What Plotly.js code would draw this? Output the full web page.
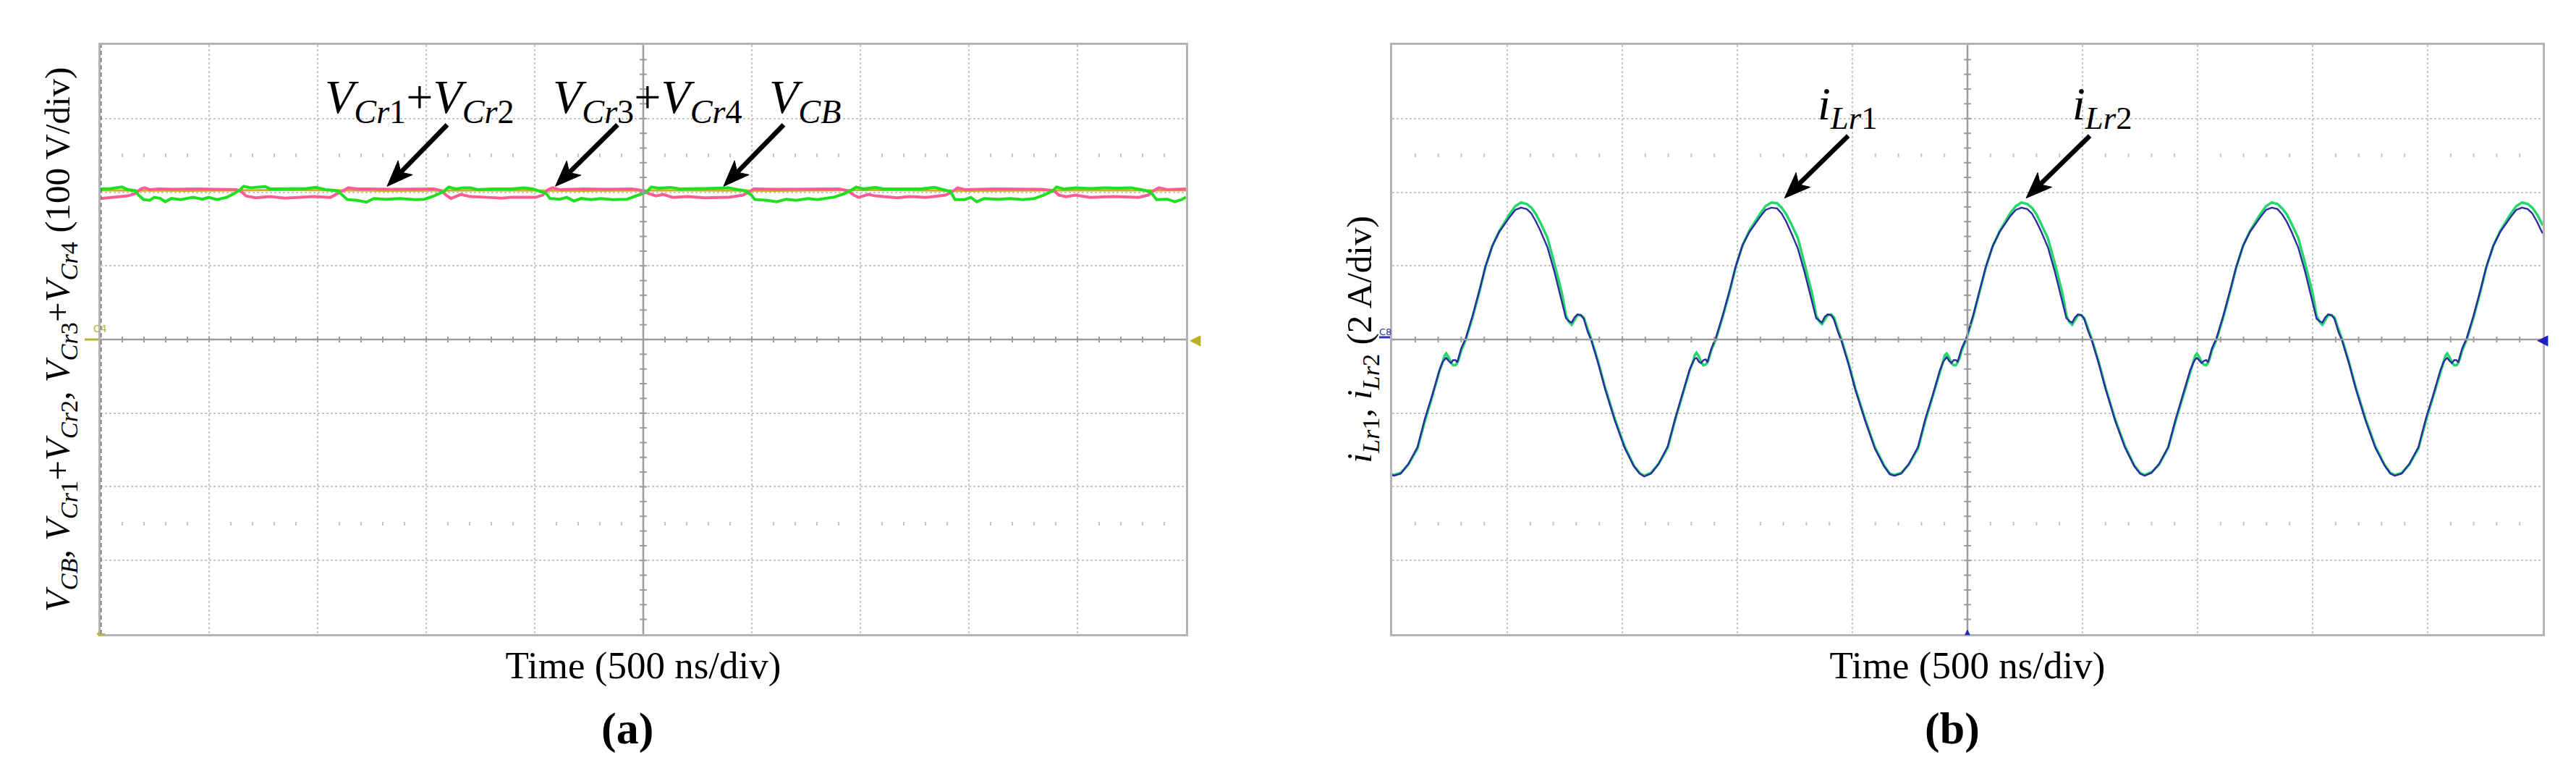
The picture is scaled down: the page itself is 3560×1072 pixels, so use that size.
<!DOCTYPE html>
<html>
<head>
<meta charset="utf-8">
<script src="https://cdn.plot.ly/plotly-3.0.1.min.js"></script>
<style>html,body{margin:0;padding:0;background:#fff;}#chart{width:3560px;height:1072px;}</style>
</head>
<body>
<div id="chart"></div>
<script>
// ---------- Panel (a): capacitor voltages, in divisions (100 V/div), time in divisions (500 ns/div)
const tCr34 = [0, 0.096, 0.196, 0.251, 0.318, 0.351, 0.396, 0.451, 0.496, 0.551, 0.596, 0.651, 0.74, 0.851, 0.94, 0.996, 1.073, 1.162, 1.229, 1.284, 1.318, 1.384, 1.451, 1.518, 1.562, 1.696, 1.896, 1.984, 2.073, 2.184, 2.24, 2.273, 2.362, 2.451, 2.518, 2.629, 2.762, 2.896, 2.984, 3.073, 3.162, 3.207, 3.273, 3.34, 3.407, 3.473, 3.607, 3.784, 3.896, 3.984, 4.051, 4.107, 4.14, 4.229, 4.296, 4.362, 4.429, 4.518, 4.607, 4.718, 4.851, 4.94, 5.029, 5.073, 5.14, 5.251, 5.34, 5.562, 5.784, 5.873, 5.94, 5.996, 6.029, 6.14, 6.229, 6.318, 6.407, 6.518, 6.607, 6.762, 6.851, 6.907, 6.962, 7.029, 7.14, 7.207, 7.34, 7.562, 7.684, 7.762, 7.829, 7.873, 7.962, 8.018, 8.073, 8.14, 8.273, 8.384, 8.496, 8.607, 8.696, 8.773, 8.807, 8.873, 8.984, 9.118, 9.251, 9.384, 9.496, 9.607, 9.673, 9.729, 9.829, 9.896, 9.962, 10.0];
const vCr34 = [2.045, 2.05, 2.07, 2.035, 2.02, 1.96, 1.90, 1.89, 1.93, 1.915, 1.87, 1.915, 1.90, 1.93, 1.905, 1.93, 1.90, 1.93, 1.98, 2.03, 2.08, 2.06, 2.07, 2.075, 2.045, 2.05, 2.05, 2.065, 2.035, 2.02, 1.95, 1.90, 1.89, 1.865, 1.915, 1.905, 1.915, 1.90, 1.905, 1.95, 2.01, 2.07, 2.045, 2.06, 2.06, 2.035, 2.045, 2.045, 2.06, 2.045, 2.01, 1.98, 1.915, 1.905, 1.93, 1.88, 1.915, 1.90, 1.915, 1.90, 1.905, 1.95, 2.00, 2.07, 2.055, 2.065, 2.045, 2.05, 2.06, 2.035, 2.02, 1.96, 1.90, 1.89, 1.87, 1.905, 1.89, 1.915, 1.90, 1.935, 1.98, 2.02, 2.07, 2.045, 2.065, 2.045, 2.045, 2.045, 2.065, 2.03, 2.01, 1.90, 1.90, 1.93, 1.87, 1.915, 1.905, 1.915, 1.90, 1.915, 1.965, 2.02, 2.07, 2.045, 2.06, 2.05, 2.06, 2.055, 2.06, 2.03, 2.005, 1.90, 1.905, 1.87, 1.90, 1.935];

const tCr12 = [0, 0.14, 0.251, 0.318, 0.373, 0.407, 0.451, 0.54, 0.673, 0.896, 1.118, 1.251, 1.296, 1.34, 1.429, 1.562, 1.696, 1.829, 1.962, 2.118, 2.196, 2.251, 2.284, 2.362, 2.673, 3.073, 3.14, 3.184, 3.229, 3.318, 3.407, 3.562, 3.696, 3.784, 4.007, 4.073, 4.118, 4.162, 4.229, 4.451, 4.673, 4.896, 5.007, 5.051, 5.118, 5.184, 5.273, 5.407, 5.562, 5.784, 5.918, 5.984, 6.018, 6.229, 6.496, 6.74, 6.807, 6.884, 6.94, 6.984, 7.073, 7.14, 7.229, 7.34, 7.451, 7.607, 7.784, 7.851, 7.896, 7.962, 8.229, 8.673, 8.784, 8.829, 8.896, 8.984, 9.118, 9.34, 9.562, 9.651, 9.718, 9.751, 9.829, 10.0];
const vCr12 = [1.915, 1.93, 1.95, 1.98, 2.045, 2.06, 2.035, 2.045, 2.04, 2.045, 2.04, 2.035, 2.01, 1.95, 1.925, 1.94, 1.92, 1.93, 1.94, 1.93, 1.99, 2.035, 2.06, 2.045, 2.04, 2.045, 2.02, 1.96, 1.915, 1.97, 1.94, 1.93, 1.92, 1.93, 1.93, 1.96, 2.03, 2.06, 2.035, 2.045, 2.04, 2.045, 2.02, 1.98, 1.95, 1.97, 1.93, 1.94, 1.925, 1.93, 1.96, 2.01, 2.045, 2.04, 2.045, 2.04, 2.045, 2.02, 1.96, 1.93, 1.97, 1.95, 1.94, 1.925, 1.94, 1.93, 1.96, 2.01, 2.06, 2.035, 2.045, 2.04, 2.02, 1.96, 1.94, 1.96, 1.93, 1.94, 1.93, 1.96, 2.035, 2.06, 2.035, 2.045];

const tCB = [0, 0.8, 1.7, 2.6, 3.5, 4.4, 5.3, 6.2, 7.1, 8.0, 8.9, 9.8, 10];
const vCB = [2.025, 2.02, 2.03, 2.02, 2.025, 2.02, 2.025, 2.02, 2.03, 2.02, 2.025, 2.02, 2.025];

// ---------- Panel (b): resonant inductor currents, in divisions (2 A/div)
const tLr = [
  0, 0.015, 0.075, 0.14, 0.22, 0.285, 0.345, 0.41, 0.44, 0.455, 0.47, 0.49, 0.51, 0.53, 0.55, 0.565, 0.58, 0.60, 0.64, 0.70, 0.76, 0.81, 0.87, 0.93, 1.02, 1.07, 1.12, 1.17, 1.21, 1.25, 1.29, 1.35, 1.41, 1.475, 1.51, 1.535, 1.56, 1.585, 1.61, 1.64, 1.665, 1.70, 1.73, 1.79, 1.85, 1.935, 2.02, 2.10, 2.15,
  2.19, 2.25, 2.315, 2.395, 2.46, 2.52, 2.585, 2.615, 2.63, 2.645, 2.665, 2.685, 2.705, 2.725, 2.74, 2.755, 2.775, 2.815, 2.875, 2.935, 2.985, 3.045, 3.105, 3.195, 3.245, 3.295, 3.345, 3.385, 3.425, 3.465, 3.525, 3.585, 3.65, 3.685, 3.71, 3.735, 3.76, 3.785, 3.815, 3.84, 3.875, 3.905, 3.965, 4.025, 4.11, 4.195, 4.275, 4.325,
  4.365, 4.425, 4.49, 4.57, 4.635, 4.695, 4.76, 4.79, 4.805, 4.82, 4.84, 4.86, 4.88, 4.90, 4.915, 4.93, 4.95, 4.99, 5.05, 5.11, 5.16, 5.22, 5.28, 5.37, 5.42, 5.47, 5.52, 5.56, 5.60, 5.64, 5.70, 5.76, 5.825, 5.86, 5.885, 5.91, 5.935, 5.96, 5.99, 6.015, 6.05, 6.08, 6.14, 6.20, 6.285, 6.37, 6.45, 6.50,
  6.54, 6.60, 6.665, 6.745, 6.81, 6.87, 6.935, 6.965, 6.98, 6.995, 7.015, 7.035, 7.055, 7.075, 7.09, 7.105, 7.125, 7.165, 7.225, 7.285, 7.335, 7.395, 7.455, 7.545, 7.595, 7.645, 7.695, 7.735, 7.775, 7.815, 7.875, 7.935, 8.00, 8.035, 8.06, 8.085, 8.11, 8.135, 8.165, 8.19, 8.225, 8.255, 8.315, 8.375, 8.46, 8.545, 8.625, 8.675,
  8.715, 8.775, 8.84, 8.92, 8.985, 9.045, 9.11, 9.14, 9.155, 9.17, 9.19, 9.21, 9.23, 9.25, 9.265, 9.28, 9.30, 9.34, 9.40, 9.46, 9.51, 9.57, 9.63, 9.72, 9.77, 9.82, 9.87, 9.91, 9.95, 9.99, 10.0
];
const iLr1 = [
  -1.83, -1.84, -1.81, -1.70, -1.48, -1.10, -0.79, -0.43, -0.30, -0.22, -0.19, -0.24, -0.31, -0.35, -0.35, -0.32, -0.26, -0.15, 0.00, 0.31, 0.66, 0.98, 1.27, 1.47, 1.70, 1.81, 1.86, 1.84, 1.79, 1.70, 1.58, 1.38, 1.03, 0.63, 0.33, 0.24, 0.20, 0.26, 0.33, 0.33, 0.30, 0.14, 0.01, -0.30, -0.65, -1.08, -1.45, -1.71, -1.81,
  -1.85, -1.81, -1.69, -1.47, -1.09, -0.78, -0.42, -0.30, -0.21, -0.18, -0.23, -0.31, -0.35, -0.34, -0.31, -0.25, -0.14, 0.01, 0.32, 0.66, 0.98, 1.28, 1.48, 1.70, 1.81, 1.86, 1.85, 1.79, 1.70, 1.58, 1.38, 1.02, 0.62, 0.33, 0.25, 0.21, 0.27, 0.33, 0.34, 0.30, 0.13, 0.00, -0.31, -0.66, -1.08, -1.46, -1.71, -1.82,
  -1.84, -1.81, -1.70, -1.48, -1.10, -0.78, -0.43, -0.29, -0.21, -0.19, -0.24, -0.32, -0.35, -0.35, -0.31, -0.26, -0.15, 0.00, 0.31, 0.67, 0.98, 1.27, 1.47, 1.71, 1.81, 1.86, 1.84, 1.79, 1.70, 1.57, 1.37, 1.03, 0.63, 0.33, 0.24, 0.20, 0.26, 0.33, 0.33, 0.29, 0.14, 0.01, -0.30, -0.65, -1.09, -1.45, -1.71, -1.81,
  -1.84, -1.80, -1.70, -1.47, -1.10, -0.79, -0.43, -0.30, -0.22, -0.19, -0.24, -0.31, -0.34, -0.35, -0.32, -0.26, -0.15, 0.00, 0.31, 0.66, 0.97, 1.27, 1.47, 1.70, 1.81, 1.86, 1.84, 1.78, 1.70, 1.58, 1.38, 1.03, 0.63, 0.32, 0.24, 0.20, 0.26, 0.33, 0.33, 0.30, 0.14, 0.01, -0.30, -0.65, -1.08, -1.45, -1.70, -1.81,
  -1.84, -1.81, -1.70, -1.48, -1.10, -0.79, -0.43, -0.30, -0.22, -0.19, -0.24, -0.31, -0.35, -0.35, -0.32, -0.26, -0.15, 0.00, 0.31, 0.66, 0.98, 1.27, 1.47, 1.70, 1.81, 1.86, 1.84, 1.79, 1.70, 1.58, 1.55
];
const iLr2 = [
  -1.84, -1.85, -1.82, -1.69, -1.46, -1.07, -0.77, -0.42, -0.30, -0.27, -0.25, -0.29, -0.32, -0.28, -0.28, -0.31, -0.23, -0.12, 0.02, 0.33, 0.68, 0.99, 1.27, 1.46, 1.66, 1.76, 1.79, 1.77, 1.71, 1.60, 1.47, 1.25, 0.92, 0.52, 0.29, 0.25, 0.23, 0.30, 0.34, 0.33, 0.28, 0.10, -0.01, -0.32, -0.67, -1.10, -1.47, -1.72, -1.82,
  -1.86, -1.82, -1.69, -1.45, -1.07, -0.76, -0.41, -0.30, -0.26, -0.25, -0.30, -0.32, -0.28, -0.27, -0.31, -0.22, -0.12, 0.03, 0.34, 0.68, 0.99, 1.28, 1.46, 1.66, 1.76, 1.79, 1.78, 1.71, 1.60, 1.46, 1.24, 0.91, 0.51, 0.29, 0.26, 0.23, 0.31, 0.34, 0.33, 0.27, 0.10, -0.02, -0.33, -0.68, -1.10, -1.48, -1.72, -1.83,
  -1.85, -1.82, -1.69, -1.46, -1.07, -0.77, -0.42, -0.30, -0.27, -0.24, -0.29, -0.32, -0.28, -0.28, -0.30, -0.23, -0.12, 0.02, 0.33, 0.69, 0.99, 1.27, 1.46, 1.67, 1.76, 1.79, 1.77, 1.71, 1.60, 1.47, 1.25, 0.92, 0.52, 0.29, 0.25, 0.23, 0.30, 0.34, 0.33, 0.28, 0.11, -0.01, -0.32, -0.67, -1.11, -1.47, -1.72, -1.82,
  -1.85, -1.81, -1.69, -1.46, -1.08, -0.77, -0.42, -0.31, -0.27, -0.25, -0.29, -0.32, -0.29, -0.28, -0.31, -0.23, -0.12, 0.02, 0.33, 0.68, 0.98, 1.27, 1.46, 1.66, 1.76, 1.79, 1.77, 1.70, 1.60, 1.47, 1.25, 0.92, 0.52, 0.28, 0.25, 0.23, 0.30, 0.34, 0.33, 0.28, 0.10, -0.01, -0.32, -0.67, -1.10, -1.47, -1.71, -1.82,
  -1.85, -1.82, -1.69, -1.46, -1.07, -0.77, -0.42, -0.30, -0.27, -0.25, -0.29, -0.32, -0.28, -0.28, -0.31, -0.23, -0.12, 0.02, 0.33, 0.68, 0.99, 1.27, 1.46, 1.66, 1.76, 1.79, 1.77, 1.71, 1.60, 1.47, 1.44
];

// ---------- Text
const xTitle = 'Time (500 ns/div)';
const yTitleA = '<i>V</i><sub><i>CB</i></sub>, <i>V</i><sub><i>Cr</i>1</sub>+<i>V</i><sub><i>Cr</i>2</sub>, <i>V</i><sub><i>Cr</i>3</sub>+<i>V</i><sub><i>Cr</i>4</sub> (100 V/div)';
const yTitleB = '<i>i</i><sub><i>Lr</i>1</sub>, <i>i</i><sub><i>Lr</i>2</sub> (2 A/div)';
const labelsA = ['<i>V</i><sub><i>Cr</i>1</sub>+<i>V</i><sub><i>Cr</i>2</sub>', '<i>V</i><sub><i>Cr</i>3</sub>+<i>V</i><sub><i>Cr</i>4</sub>', '<i>V</i><sub><i>CB</i></sub>'];
const labelsB = ['<i>i</i><sub><i>Lr</i>1</sub>', '<i>i</i><sub><i>Lr</i>2</sub>'];
const panelTags = ['(a)', '(b)'];

// ---------- Styling / layout
const W = 3560, H = 1072;
const serif = 'Liberation Serif';
const px = v => v / W, py = v => 1 - v / H;
const domXA = [0.03904, 0.46039], domXB = [0.54045, 0.98708], domY = [0.18284, 0.94216];

const traces = [
  {x: tCB, y: vCB, xaxis: 'x', yaxis: 'y', mode: 'lines', line: {color: '#c8b21e', width: 3}, hoverinfo: 'skip'},
  {x: tCr12, y: vCr12, xaxis: 'x', yaxis: 'y', mode: 'lines', line: {color: '#ff5c96', width: 4}, hoverinfo: 'skip'},
  {x: tCr34, y: vCr34, xaxis: 'x', yaxis: 'y', mode: 'lines', line: {color: '#1ee01e', width: 4}, hoverinfo: 'skip'},
  {x: tLr, y: iLr1, xaxis: 'x2', yaxis: 'y2', mode: 'lines', line: {color: '#22d86a', width: 3.5}, hoverinfo: 'skip'},
  {x: tLr, y: iLr2, xaxis: 'x2', yaxis: 'y2', mode: 'lines', line: {color: '#2c2ca0', width: 2.4}, hoverinfo: 'skip'}
];

function axisX(domain, anchor) {
  return {domain: domain, anchor: anchor, range: [0, 10], dtick: 1, tick0: 0,
    showgrid: true, gridcolor: '#c6c6c6', griddash: 'dot', gridwidth: 2,
    zeroline: false, showline: true, mirror: true, linecolor: '#b4b4b4', linewidth: 3,
    showticklabels: false, ticks: '',
    title: {text: xTitle, font: {family: serif, size: 53, color: '#000'}, standoff: 22}};
}
function axisY(anchor, title, standoff) {
  return {domain: domY, anchor: anchor, range: [-4, 4], dtick: 1, tick0: 0,
    showgrid: true, gridcolor: '#c6c6c6', griddash: 'dot', gridwidth: 2,
    zeroline: false, showline: true, mirror: true, linecolor: '#b4b4b4', linewidth: 3,
    showticklabels: false, ticks: '',
    title: {text: title, font: {family: serif, size: 49, color: '#000'}, standoff: standoff}};
}

// graticule decorations (center cross with minor ticks, dotted marker rows)
const shapes = [];
[['x', 'y', 0.033, 0.04], ['x2', 'y2', 0.031, 0.04]].forEach(([xr, yr, dx, dy]) => {
  const c = '#9c9c9c';
  shapes.push({type: 'line', xref: xr, yref: yr, x0: 5, x1: 5, y0: -4, y1: 4, line: {color: c, width: 2.5}});
  shapes.push({type: 'line', xref: xr, yref: yr, x0: 0, x1: 10, y0: 0, y1: 0, line: {color: c, width: 2.5}});
  for (let k = 1; k < 50; k++) {
    const t = k * 0.2;
    shapes.push({type: 'line', xref: xr, yref: yr, x0: t, x1: t, y0: -dy, y1: dy, line: {color: c, width: 2}});
  }
  for (let k = 1; k < 40; k++) {
    const t = -4 + k * 0.2;
    shapes.push({type: 'line', xref: xr, yref: yr, x0: 5 - dx, x1: 5 + dx, y0: t, y1: t, line: {color: c, width: 2}});
  }
  [2.5, -2.5].forEach(r => {
    for (let k = 0; k < 50; k++) {
      if (k % 5 === 0) continue;
      const t = k * 0.2;
      shapes.push({type: 'line', xref: xr, yref: yr, x0: t, x1: t, y0: r - 0.025, y1: r + 0.025, line: {color: '#c4c4c4', width: 2}});
    }
  });
});
// darker dashed left edge of panel (a)
shapes.push({type: 'line', xref: 'x', yref: 'y', x0: 0, x1: 0, y0: -4, y1: 4, line: {color: '#6e6e6e', width: 3, dash: '6px,4px'}});
// channel level markers
shapes.push({type: 'line', xref: 'paper', yref: 'y', x0: px(117), x1: px(136), y0: 0, y1: 0, line: {color: '#b8b030', width: 3}});
shapes.push({type: 'line', xref: 'paper', yref: 'y2', x0: px(1906), x1: px(1921), y0: 0.03, y1: 0.03, line: {color: '#3030b0', width: 3}});

// pointer arrows (stealth heads) drawn as shapes; tip given in data units of its panel, tail offset in px
function dataToPx(dom, x, y) {
  const L = dom[0] * W, R = dom[1] * W;
  const T = (1 - domY[1]) * H, B = (1 - domY[0]) * H;
  return [L + x / 10 * (R - L), T + (4 - y) / 8 * (B - T)];
}
function addArrow(dom, x, y, ax, ay) {
  const [tx, ty] = dataToPx(dom, x, y);
  const len = Math.hypot(ax, ay), ux = ax / len, uy = ay / len, nx = -uy, ny = ux;
  const HL = 36, HW = 14, NOTCH = 9;
  const bx = tx + ux * HL, by = ty + uy * HL;
  const p1 = [bx + nx * HW, by + ny * HW], p2 = [bx - nx * HW, by - ny * HW];
  const nk = [tx + ux * (HL - NOTCH), ty + uy * (HL - NOTCH)];
  const P = p => px(p[0]).toFixed(5) + ',' + py(p[1]).toFixed(5);
  shapes.push({type: 'line', xref: 'paper', yref: 'paper', x0: px(tx + ax), y0: py(ty + ay), x1: px(nk[0]), y1: py(nk[1]),
    line: {color: '#000', width: 6.5}});
  shapes.push({type: 'path', xref: 'paper', yref: 'paper', path: 'M' + P([tx, ty]) + ' L' + P(p1) + ' L' + P(nk) + ' L' + P(p2) + ' Z',
    fillcolor: '#000', line: {color: '#000', width: 1}});
}
addArrow(domXA, 2.64, 2.08, 83, -85);
addArrow(domXA, 4.19, 2.08, 86, -85);
addArrow(domXA, 5.74, 2.08, 83, -85);
addArrow(domXB, 3.41, 1.92, 88, -86);
addArrow(domXB, 5.51, 1.92, 88, -86);

const ann = [];
// labels (a)
[[580, labelsA[0]], [895, labelsA[1]], [1112, labelsA[2]]].forEach(([x, t]) => {
  ann.push({xref: 'paper', yref: 'paper', x: px(x), y: py(138), text: t, showarrow: false,
    xanchor: 'center', yanchor: 'middle', font: {family: serif, size: 66, color: '#000'}});
});
// labels (b)
[[2553, labelsB[0]], [2905, labelsB[1]]].forEach(([x, t]) => {
  ann.push({xref: 'paper', yref: 'paper', x: px(x), y: py(148), text: t, showarrow: false,
    xanchor: 'center', yanchor: 'middle', font: {family: serif, size: 64, color: '#000'}});
});
// panel tags
[[867, panelTags[0]], [2698, panelTags[1]]].forEach(([x, t]) => {
  ann.push({xref: 'paper', yref: 'paper', x: px(x), y: py(1006), text: '<b>' + t + '</b>', showarrow: false,
    xanchor: 'center', yanchor: 'middle', font: {family: serif, size: 62, color: '#000'}});
});
// scope channel indicators
ann.push({xref: 'paper', yref: 'paper', x: px(127), y: py(454), text: 'C4', showarrow: false, font: {family: 'DejaVu Sans', size: 14, color: '#b8b040'}});
ann.push({xref: 'paper', yref: 'y', x: px(1652), y: 0, text: '◀', showarrow: false, font: {family: 'DejaVu Sans', size: 20, color: '#b8b020'}});
ann.push({xref: 'paper', yref: 'paper', x: px(131), y: py(887), text: '←', showarrow: false, font: {family: 'DejaVu Sans', size: 16, color: '#c0b020'}});
ann.push({xref: 'paper', yref: 'paper', x: px(1914), y: py(458), text: 'C8', showarrow: false, font: {family: 'DejaVu Sans', size: 13, color: '#3030b0'}});
ann.push({xref: 'paper', yref: 'y2', x: px(3524), y: 0, text: '◀', showarrow: false, font: {family: 'DejaVu Sans', size: 20, color: '#2020c0'}});
ann.push({xref: 'x2', yref: 'paper', x: 5, y: py(880), text: '▲', showarrow: false, font: {family: 'DejaVu Sans', size: 10, color: '#2020c0'}});

const layout = {
  width: W, height: H, margin: {l: 0, r: 0, t: 0, b: 0},
  paper_bgcolor: '#fff', plot_bgcolor: '#fff', showlegend: false,
  xaxis: axisX(domXA, 'y'),
  yaxis: axisY('x', yTitleA, 24),
  xaxis2: axisX(domXB, 'y2'),
  yaxis2: axisY('x2', yTitleB, 10),
  shapes: shapes, annotations: ann
};

// Plotly surrounds every subscript with empty zero-width-space pieces that only carry the
// baseline reset; move that shift onto the following text and drop the empty pieces.
function tidySubscripts() {
  const NS = 'http://www.w3.org/2000/svg';
  const ZW = '\u200b';
  document.querySelectorAll('#chart tspan').forEach(r => {
    if (r.textContent !== ZW) return;
    const dy = r.getAttribute('dy');
    const n = r.nextSibling;
    if (n && dy) {
      if (n.nodeType === 3) {
        const s = document.createElementNS(NS, 'tspan');
        s.setAttribute('dy', dy);
        s.textContent = n.textContent;
        n.parentNode.replaceChild(s, n);
      } else if (n.nodeType === 1 && !n.getAttribute('dy')) {
        n.setAttribute('dy', dy);
      } else {
        return;
      }
    }
    r.parentNode.removeChild(r);
  });
  const root = document.getElementById('chart');
  const walker = document.createTreeWalker(root, NodeFilter.SHOW_TEXT);
  const drop = [];
  while (walker.nextNode()) {
    const t = walker.currentNode;
    if (t.nodeValue.indexOf(ZW) >= 0) {
      t.nodeValue = t.nodeValue.split(ZW).join('');
      if (t.nodeValue === '') drop.push(t);
    }
  }
  drop.forEach(t => t.parentNode && t.parentNode.removeChild(t));
}

Plotly.newPlot('chart', traces, layout, {staticPlot: true, displayModeBar: false}).then(tidySubscripts);
</script>
</body>
</html>
